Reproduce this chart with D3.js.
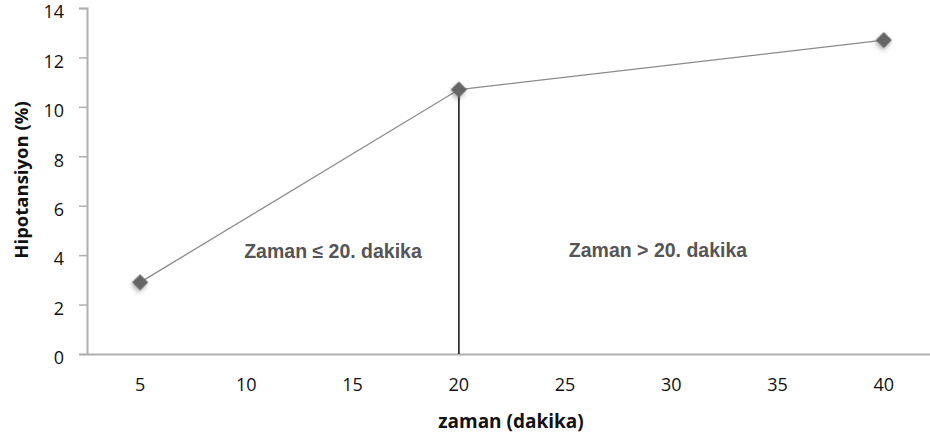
<!DOCTYPE html>
<html>
<head>
<meta charset="utf-8">
<script src="https://cdn.jsdelivr.net/npm/d3@7"></script>
<style>
  html, body { margin: 0; padding: 0; background: #fff; }
  svg { display: block; }
</style>
</head>
<body>
<svg id="chart" width="930" height="440"></svg>
<script>
// Time categories on the x axis (minutes)
const categories = ["5", "10", "15", "20", "25", "30", "35", "40"];
// Measured hypotension rate (%) at the observed times
const pointTimes = ["5", "20", "40"];
const pointValues = [2.9, 10.7, 12.7];
const yTicks = [0, 2, 4, 6, 8, 10, 12, 14];
const splitTime = "20";
const regionLabels = ["Zaman \u2264 20. dakika", "Zaman > 20. dakika"];

const svg = d3.select("#chart");
const textFont = "'Open Sans', 'Liberation Sans', sans-serif";
const labelFont = "'Liberation Sans', Arial, sans-serif";

const x = d3.scaleBand().domain(categories).range([87, 937]);
const y = d3.scaleLinear().domain([0, 14]).range([354, 8]);
const cx = d => x(d) + x.bandwidth() / 2;

// soft shadow for the markers
const defs = svg.append("defs");
const f = defs.append("filter").attr("id", "shadow")
  .attr("x", "-60%").attr("y", "-60%").attr("width", "220%").attr("height", "220%");
f.append("feDropShadow").attr("dx", 1).attr("dy", 2.5).attr("stdDeviation", 2.2)
  .attr("flood-color", "#000").attr("flood-opacity", 0.3);

// y axis
const yAxis = svg.append("g").attr("transform", "translate(87,0)")
  .call(d3.axisLeft(y).tickValues(yTicks).tickSize(8).tickPadding(15));
yAxis.select(".domain").attr("stroke", "#b0b0b0").attr("stroke-width", 2);
yAxis.selectAll(".tick line").attr("stroke", "#b0b0b0").attr("stroke-width", 1.5);
yAxis.selectAll(".tick text").attr("font-family", textFont).attr("font-size", 18)
  .attr("fill", "#111").attr("y", 4);

// x axis
const xAxis = svg.append("g").attr("transform", "translate(0,354)")
  .call(d3.axisBottom(x).tickSize(0).tickPadding(24));
xAxis.select(".domain").attr("stroke", "#b0b0b0").attr("stroke-width", 2);
xAxis.selectAll(".tick text").attr("font-family", textFont).attr("font-size", 18).attr("fill", "#111");

// divider at minute 20
const splitIdx = pointTimes.indexOf(splitTime);
svg.append("line")
  .attr("x1", cx(splitTime)).attr("x2", cx(splitTime))
  .attr("y1", y(pointValues[splitIdx])).attr("y2", y(0))
  .attr("stroke", "#333").attr("stroke-width", 1.8);

// data line
const pts = pointTimes.map((t, i) => [cx(t), y(pointValues[i])]);
svg.append("path")
  .attr("d", d3.line()(pts))
  .attr("fill", "none").attr("stroke", "#8a8a8a").attr("stroke-width", 1.3);

// diamond markers
svg.selectAll(".mk").data(pts).enter().append("path")
  .attr("class", "mk")
  .attr("d", d3.symbol(d3.symbolSquare, 130)())
  .attr("transform", d => `translate(${d[0]},${d[1]}) rotate(45)`)
  .attr("fill", "#656565").attr("filter", "url(#shadow)");

// region labels
const labelPos = [[333, 258], [658, 257]];
svg.selectAll(".rl").data(regionLabels).enter().append("text")
  .attr("x", (d, i) => labelPos[i][0])
  .attr("y", (d, i) => labelPos[i][1])
  .attr("text-anchor", "middle")
  .attr("font-family", labelFont)
  .attr("font-weight", "bold").attr("font-size", 19.5).attr("fill", "#555")
  .text(d => d);

// axis titles
svg.append("text")
  .attr("transform", "translate(28,180) rotate(-90)")
  .attr("text-anchor", "middle")
  .attr("font-family", textFont).attr("font-weight", "bold").attr("font-size", 18.5)
  .attr("fill", "#111").text("Hipotansiyon (%)");
svg.append("text")
  .attr("x", 511).attr("y", 428)
  .attr("text-anchor", "middle")
  .attr("font-family", textFont).attr("font-weight", "bold").attr("font-size", 19)
  .attr("fill", "#111").text("zaman (dakika)");
</script>
</body>
</html>
